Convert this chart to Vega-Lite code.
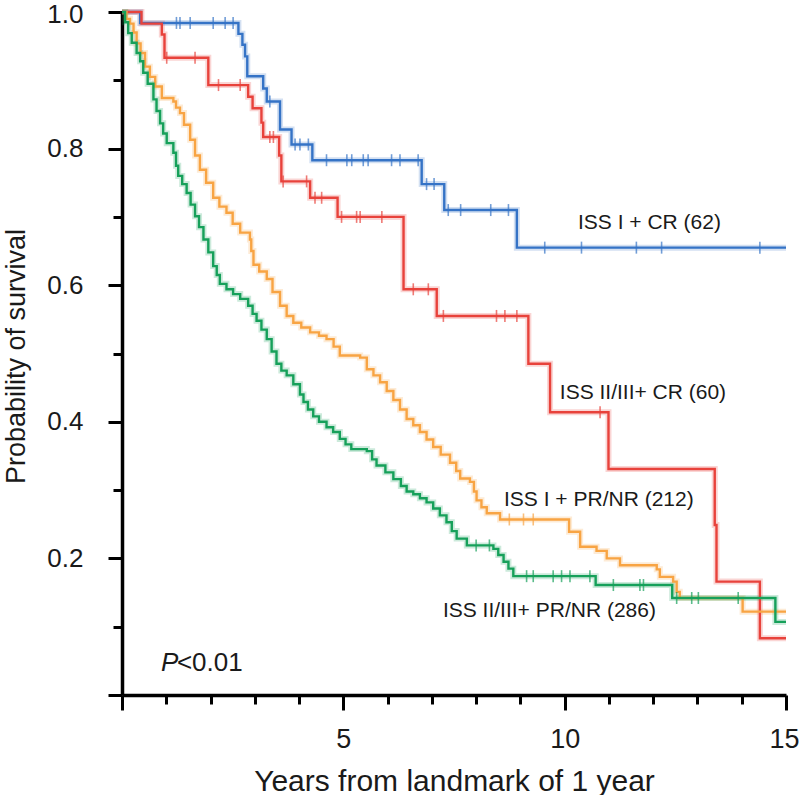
{
  "$schema": "https://vega.github.io/schema/vega-lite/v6.json",
  "width": 664,
  "height": 683,
  "autosize": {"type": "none"},
  "padding": {"left": 122, "top": 12, "right": 14, "bottom": 100},
  "background": "white",
  "config": {
    "view": {"stroke": null},
    "font": "Liberation Sans"
  },
  "datasets": {
    "curves": [
      {"group": "I+CR", "t": 0, "s": 1},
      {"group": "I+CR", "t": 0.41, "s": 0.984},
      {"group": "I+CR", "t": 2.63, "s": 0.968},
      {"group": "I+CR", "t": 2.72, "s": 0.952},
      {"group": "I+CR", "t": 2.78, "s": 0.935},
      {"group": "I+CR", "t": 2.83, "s": 0.906},
      {"group": "I+CR", "t": 3.19, "s": 0.888},
      {"group": "I+CR", "t": 3.27, "s": 0.869},
      {"group": "I+CR", "t": 3.57, "s": 0.828},
      {"group": "I+CR", "t": 3.83, "s": 0.806},
      {"group": "I+CR", "t": 4.3, "s": 0.783},
      {"group": "I+CR", "t": 6.77, "s": 0.748},
      {"group": "I+CR", "t": 7.28, "s": 0.71},
      {"group": "I+CR", "t": 8.92, "s": 0.655},
      {"group": "I+CR", "t": 15, "s": 0.655},

      {"group": "II/III+CR", "t": 0, "s": 1},
      {"group": "II/III+CR", "t": 0.44, "s": 0.983},
      {"group": "II/III+CR", "t": 0.9, "s": 0.967},
      {"group": "II/III+CR", "t": 0.96, "s": 0.933},
      {"group": "II/III+CR", "t": 1.95, "s": 0.893},
      {"group": "II/III+CR", "t": 2.85, "s": 0.876},
      {"group": "II/III+CR", "t": 2.95, "s": 0.859},
      {"group": "II/III+CR", "t": 3.15, "s": 0.838},
      {"group": "II/III+CR", "t": 3.19, "s": 0.817},
      {"group": "II/III+CR", "t": 3.55, "s": 0.79},
      {"group": "II/III+CR", "t": 3.6, "s": 0.752},
      {"group": "II/III+CR", "t": 4.25, "s": 0.728},
      {"group": "II/III+CR", "t": 4.87, "s": 0.7},
      {"group": "II/III+CR", "t": 6.36, "s": 0.594},
      {"group": "II/III+CR", "t": 7.11, "s": 0.555},
      {"group": "II/III+CR", "t": 9.18, "s": 0.485},
      {"group": "II/III+CR", "t": 9.67, "s": 0.414},
      {"group": "II/III+CR", "t": 10.99, "s": 0.331},
      {"group": "II/III+CR", "t": 13.39, "s": 0.249},
      {"group": "II/III+CR", "t": 13.43, "s": 0.166},
      {"group": "II/III+CR", "t": 14.41, "s": 0.083},
      {"group": "II/III+CR", "t": 15, "s": 0.083},

      {"group": "I+PR/NR", "t": 0, "s": 1},
      {"group": "I+PR/NR", "t": 0.1, "s": 0.99},
      {"group": "I+PR/NR", "t": 0.18, "s": 0.983},
      {"group": "I+PR/NR", "t": 0.26, "s": 0.97},
      {"group": "I+PR/NR", "t": 0.33, "s": 0.954},
      {"group": "I+PR/NR", "t": 0.42, "s": 0.94},
      {"group": "I+PR/NR", "t": 0.52, "s": 0.92},
      {"group": "I+PR/NR", "t": 0.63, "s": 0.905},
      {"group": "I+PR/NR", "t": 0.75, "s": 0.891},
      {"group": "I+PR/NR", "t": 0.9, "s": 0.874},
      {"group": "I+PR/NR", "t": 1.16, "s": 0.869},
      {"group": "I+PR/NR", "t": 1.22, "s": 0.86},
      {"group": "I+PR/NR", "t": 1.31, "s": 0.852},
      {"group": "I+PR/NR", "t": 1.4, "s": 0.835},
      {"group": "I+PR/NR", "t": 1.54, "s": 0.813},
      {"group": "I+PR/NR", "t": 1.65, "s": 0.79},
      {"group": "I+PR/NR", "t": 1.76, "s": 0.769},
      {"group": "I+PR/NR", "t": 1.9, "s": 0.75},
      {"group": "I+PR/NR", "t": 2.06, "s": 0.728},
      {"group": "I+PR/NR", "t": 2.2, "s": 0.715},
      {"group": "I+PR/NR", "t": 2.36, "s": 0.706},
      {"group": "I+PR/NR", "t": 2.5, "s": 0.69},
      {"group": "I+PR/NR", "t": 2.67, "s": 0.677},
      {"group": "I+PR/NR", "t": 2.89, "s": 0.667},
      {"group": "I+PR/NR", "t": 2.92, "s": 0.65},
      {"group": "I+PR/NR", "t": 2.97, "s": 0.63},
      {"group": "I+PR/NR", "t": 3.1, "s": 0.62},
      {"group": "I+PR/NR", "t": 3.27, "s": 0.609},
      {"group": "I+PR/NR", "t": 3.4, "s": 0.59},
      {"group": "I+PR/NR", "t": 3.57, "s": 0.57},
      {"group": "I+PR/NR", "t": 3.72, "s": 0.555},
      {"group": "I+PR/NR", "t": 3.87, "s": 0.545},
      {"group": "I+PR/NR", "t": 4.05, "s": 0.538},
      {"group": "I+PR/NR", "t": 4.25, "s": 0.531},
      {"group": "I+PR/NR", "t": 4.45, "s": 0.526},
      {"group": "I+PR/NR", "t": 4.62, "s": 0.521},
      {"group": "I+PR/NR", "t": 4.78, "s": 0.51},
      {"group": "I+PR/NR", "t": 4.92, "s": 0.497},
      {"group": "I+PR/NR", "t": 5.38, "s": 0.494},
      {"group": "I+PR/NR", "t": 5.53, "s": 0.477},
      {"group": "I+PR/NR", "t": 5.68, "s": 0.468},
      {"group": "I+PR/NR", "t": 5.83, "s": 0.458},
      {"group": "I+PR/NR", "t": 5.98, "s": 0.445},
      {"group": "I+PR/NR", "t": 6.13, "s": 0.432},
      {"group": "I+PR/NR", "t": 6.28, "s": 0.418},
      {"group": "I+PR/NR", "t": 6.43, "s": 0.404},
      {"group": "I+PR/NR", "t": 6.58, "s": 0.395},
      {"group": "I+PR/NR", "t": 6.73, "s": 0.385},
      {"group": "I+PR/NR", "t": 6.88, "s": 0.374},
      {"group": "I+PR/NR", "t": 7.03, "s": 0.363},
      {"group": "I+PR/NR", "t": 7.2, "s": 0.352},
      {"group": "I+PR/NR", "t": 7.41, "s": 0.34},
      {"group": "I+PR/NR", "t": 7.55, "s": 0.328},
      {"group": "I+PR/NR", "t": 7.64, "s": 0.317},
      {"group": "I+PR/NR", "t": 7.86, "s": 0.312},
      {"group": "I+PR/NR", "t": 7.95, "s": 0.298},
      {"group": "I+PR/NR", "t": 8.01, "s": 0.285},
      {"group": "I+PR/NR", "t": 8.12, "s": 0.275},
      {"group": "I+PR/NR", "t": 8.24, "s": 0.266},
      {"group": "I+PR/NR", "t": 8.54, "s": 0.257},
      {"group": "I+PR/NR", "t": 10.1, "s": 0.239},
      {"group": "I+PR/NR", "t": 10.35, "s": 0.217},
      {"group": "I+PR/NR", "t": 10.72, "s": 0.211},
      {"group": "I+PR/NR", "t": 10.95, "s": 0.2},
      {"group": "I+PR/NR", "t": 11.25, "s": 0.19},
      {"group": "I+PR/NR", "t": 12.08, "s": 0.184},
      {"group": "I+PR/NR", "t": 12.15, "s": 0.173},
      {"group": "I+PR/NR", "t": 12.45, "s": 0.166},
      {"group": "I+PR/NR", "t": 12.53, "s": 0.151},
      {"group": "I+PR/NR", "t": 12.6, "s": 0.142},
      {"group": "I+PR/NR", "t": 14.02, "s": 0.122},
      {"group": "I+PR/NR", "t": 15, "s": 0.122},

      {"group": "II/III+PR/NR", "t": 0, "s": 1},
      {"group": "II/III+PR/NR", "t": 0.07, "s": 0.985},
      {"group": "II/III+PR/NR", "t": 0.14, "s": 0.969},
      {"group": "II/III+PR/NR", "t": 0.22, "s": 0.955},
      {"group": "II/III+PR/NR", "t": 0.33, "s": 0.94},
      {"group": "II/III+PR/NR", "t": 0.41, "s": 0.928},
      {"group": "II/III+PR/NR", "t": 0.48, "s": 0.911},
      {"group": "II/III+PR/NR", "t": 0.58, "s": 0.895},
      {"group": "II/III+PR/NR", "t": 0.71, "s": 0.872},
      {"group": "II/III+PR/NR", "t": 0.78, "s": 0.855},
      {"group": "II/III+PR/NR", "t": 0.86, "s": 0.837},
      {"group": "II/III+PR/NR", "t": 0.93, "s": 0.822},
      {"group": "II/III+PR/NR", "t": 1.01, "s": 0.808},
      {"group": "II/III+PR/NR", "t": 1.16, "s": 0.794},
      {"group": "II/III+PR/NR", "t": 1.22, "s": 0.775},
      {"group": "II/III+PR/NR", "t": 1.27, "s": 0.76},
      {"group": "II/III+PR/NR", "t": 1.36, "s": 0.748},
      {"group": "II/III+PR/NR", "t": 1.46, "s": 0.735},
      {"group": "II/III+PR/NR", "t": 1.55, "s": 0.718},
      {"group": "II/III+PR/NR", "t": 1.65, "s": 0.701},
      {"group": "II/III+PR/NR", "t": 1.74, "s": 0.685},
      {"group": "II/III+PR/NR", "t": 1.84, "s": 0.667},
      {"group": "II/III+PR/NR", "t": 1.95, "s": 0.648},
      {"group": "II/III+PR/NR", "t": 2.06, "s": 0.628},
      {"group": "II/III+PR/NR", "t": 2.14, "s": 0.615},
      {"group": "II/III+PR/NR", "t": 2.21, "s": 0.602},
      {"group": "II/III+PR/NR", "t": 2.36, "s": 0.594},
      {"group": "II/III+PR/NR", "t": 2.51, "s": 0.587},
      {"group": "II/III+PR/NR", "t": 2.67, "s": 0.58},
      {"group": "II/III+PR/NR", "t": 2.85, "s": 0.57},
      {"group": "II/III+PR/NR", "t": 2.95, "s": 0.558},
      {"group": "II/III+PR/NR", "t": 3.04, "s": 0.548},
      {"group": "II/III+PR/NR", "t": 3.15, "s": 0.535},
      {"group": "II/III+PR/NR", "t": 3.27, "s": 0.521},
      {"group": "II/III+PR/NR", "t": 3.38, "s": 0.503},
      {"group": "II/III+PR/NR", "t": 3.49, "s": 0.485},
      {"group": "II/III+PR/NR", "t": 3.6, "s": 0.475},
      {"group": "II/III+PR/NR", "t": 3.72, "s": 0.468},
      {"group": "II/III+PR/NR", "t": 3.87, "s": 0.455},
      {"group": "II/III+PR/NR", "t": 4.02, "s": 0.44},
      {"group": "II/III+PR/NR", "t": 4.1, "s": 0.429},
      {"group": "II/III+PR/NR", "t": 4.2, "s": 0.418},
      {"group": "II/III+PR/NR", "t": 4.32, "s": 0.408},
      {"group": "II/III+PR/NR", "t": 4.45, "s": 0.4},
      {"group": "II/III+PR/NR", "t": 4.62, "s": 0.392},
      {"group": "II/III+PR/NR", "t": 4.77, "s": 0.385},
      {"group": "II/III+PR/NR", "t": 4.92, "s": 0.375},
      {"group": "II/III+PR/NR", "t": 5.05, "s": 0.367},
      {"group": "II/III+PR/NR", "t": 5.18, "s": 0.36},
      {"group": "II/III+PR/NR", "t": 5.53, "s": 0.357},
      {"group": "II/III+PR/NR", "t": 5.65, "s": 0.345},
      {"group": "II/III+PR/NR", "t": 5.75, "s": 0.336},
      {"group": "II/III+PR/NR", "t": 5.95, "s": 0.326},
      {"group": "II/III+PR/NR", "t": 6.13, "s": 0.316},
      {"group": "II/III+PR/NR", "t": 6.3, "s": 0.306},
      {"group": "II/III+PR/NR", "t": 6.43, "s": 0.298},
      {"group": "II/III+PR/NR", "t": 6.58, "s": 0.294},
      {"group": "II/III+PR/NR", "t": 6.73, "s": 0.288},
      {"group": "II/III+PR/NR", "t": 6.88, "s": 0.282},
      {"group": "II/III+PR/NR", "t": 7.03, "s": 0.273},
      {"group": "II/III+PR/NR", "t": 7.18, "s": 0.263},
      {"group": "II/III+PR/NR", "t": 7.33, "s": 0.253},
      {"group": "II/III+PR/NR", "t": 7.45, "s": 0.24},
      {"group": "II/III+PR/NR", "t": 7.56, "s": 0.229},
      {"group": "II/III+PR/NR", "t": 7.79, "s": 0.219},
      {"group": "II/III+PR/NR", "t": 8.39, "s": 0.214},
      {"group": "II/III+PR/NR", "t": 8.5, "s": 0.205},
      {"group": "II/III+PR/NR", "t": 8.62, "s": 0.195},
      {"group": "II/III+PR/NR", "t": 8.73, "s": 0.185},
      {"group": "II/III+PR/NR", "t": 8.84, "s": 0.174},
      {"group": "II/III+PR/NR", "t": 10.7, "s": 0.161},
      {"group": "II/III+PR/NR", "t": 12.43, "s": 0.142},
      {"group": "II/III+PR/NR", "t": 14.76, "s": 0.107},
      {"group": "II/III+PR/NR", "t": 15, "s": 0.107}
    ],
    "censors": [
      {"group": "I+CR", "t": 1.23, "s": 0.984},
      {"group": "I+CR", "t": 1.31, "s": 0.984},
      {"group": "I+CR", "t": 1.54, "s": 0.984},
      {"group": "I+CR", "t": 2.06, "s": 0.984},
      {"group": "I+CR", "t": 2.33, "s": 0.984},
      {"group": "I+CR", "t": 2.51, "s": 0.984},
      {"group": "I+CR", "t": 3.34, "s": 0.869},
      {"group": "I+CR", "t": 3.91, "s": 0.806},
      {"group": "I+CR", "t": 4.02, "s": 0.806},
      {"group": "I+CR", "t": 4.21, "s": 0.806},
      {"group": "I+CR", "t": 4.62, "s": 0.783},
      {"group": "I+CR", "t": 5.08, "s": 0.783},
      {"group": "I+CR", "t": 5.19, "s": 0.783},
      {"group": "I+CR", "t": 5.45, "s": 0.783},
      {"group": "I+CR", "t": 5.56, "s": 0.783},
      {"group": "I+CR", "t": 6.09, "s": 0.783},
      {"group": "I+CR", "t": 6.28, "s": 0.783},
      {"group": "I+CR", "t": 6.69, "s": 0.783},
      {"group": "I+CR", "t": 6.88, "s": 0.748},
      {"group": "I+CR", "t": 7.05, "s": 0.748},
      {"group": "I+CR", "t": 7.37, "s": 0.71},
      {"group": "I+CR", "t": 7.65, "s": 0.71},
      {"group": "I+CR", "t": 8.33, "s": 0.71},
      {"group": "I+CR", "t": 8.73, "s": 0.71},
      {"group": "I+CR", "t": 9.55, "s": 0.655},
      {"group": "I+CR", "t": 10.38, "s": 0.655},
      {"group": "I+CR", "t": 11.62, "s": 0.655},
      {"group": "I+CR", "t": 12.19, "s": 0.655},
      {"group": "I+CR", "t": 14.41, "s": 0.655},
      {"group": "II/III+CR", "t": 1.01, "s": 0.933},
      {"group": "II/III+CR", "t": 1.65, "s": 0.933},
      {"group": "II/III+CR", "t": 2.18, "s": 0.893},
      {"group": "II/III+CR", "t": 2.67, "s": 0.893},
      {"group": "II/III+CR", "t": 3.34, "s": 0.817},
      {"group": "II/III+CR", "t": 3.42, "s": 0.817},
      {"group": "II/III+CR", "t": 3.64, "s": 0.752},
      {"group": "II/III+CR", "t": 4.17, "s": 0.752},
      {"group": "II/III+CR", "t": 4.36, "s": 0.728},
      {"group": "II/III+CR", "t": 4.51, "s": 0.728},
      {"group": "II/III+CR", "t": 4.96, "s": 0.7},
      {"group": "II/III+CR", "t": 5.3, "s": 0.7},
      {"group": "II/III+CR", "t": 5.38, "s": 0.7},
      {"group": "II/III+CR", "t": 5.87, "s": 0.7},
      {"group": "II/III+CR", "t": 6.58, "s": 0.594},
      {"group": "II/III+CR", "t": 6.92, "s": 0.594},
      {"group": "II/III+CR", "t": 7.26, "s": 0.555},
      {"group": "II/III+CR", "t": 8.46, "s": 0.555},
      {"group": "II/III+CR", "t": 8.65, "s": 0.555},
      {"group": "II/III+CR", "t": 8.92, "s": 0.555},
      {"group": "II/III+CR", "t": 10.8, "s": 0.414},
      {"group": "I+PR/NR", "t": 8.75, "s": 0.257},
      {"group": "I+PR/NR", "t": 9.07, "s": 0.257},
      {"group": "I+PR/NR", "t": 9.29, "s": 0.257},
      {"group": "II/III+PR/NR", "t": 8.0, "s": 0.219},
      {"group": "II/III+PR/NR", "t": 8.3, "s": 0.219},
      {"group": "II/III+PR/NR", "t": 9.14, "s": 0.174},
      {"group": "II/III+PR/NR", "t": 9.29, "s": 0.174},
      {"group": "II/III+PR/NR", "t": 9.74, "s": 0.174},
      {"group": "II/III+PR/NR", "t": 9.93, "s": 0.174},
      {"group": "II/III+PR/NR", "t": 10.12, "s": 0.174},
      {"group": "II/III+PR/NR", "t": 10.57, "s": 0.174},
      {"group": "II/III+PR/NR", "t": 11.1, "s": 0.161},
      {"group": "II/III+PR/NR", "t": 11.7, "s": 0.161},
      {"group": "II/III+PR/NR", "t": 11.78, "s": 0.161},
      {"group": "II/III+PR/NR", "t": 12.53, "s": 0.142},
      {"group": "II/III+PR/NR", "t": 12.87, "s": 0.142},
      {"group": "II/III+PR/NR", "t": 13.02, "s": 0.142},
      {"group": "II/III+PR/NR", "t": 13.92, "s": 0.142}
    ],
    "labels": [
      {"text": "ISS I + CR (62)", "t": 10.3, "s": 0.691, "kind": "series"},
      {"text": "ISS II/III+ CR (60)", "t": 9.89, "s": 0.442, "kind": "series"},
      {"text": "ISS I + PR/NR (212)", "t": 8.63, "s": 0.286, "kind": "series"},
      {"text": "ISS II/III+ PR/NR (286)", "t": 7.25, "s": 0.123, "kind": "series"},
      {"text": "P", "t": 0.88, "s": 0.047, "kind": "pitalic"},
      {"text": "<0.01", "t": 1.24, "s": 0.047, "kind": "pvalue"}
    ]
  },
  "layer": [
    {
      "data": {"name": "curves"},
      "mark": {"type": "line", "interpolate": "step-after", "strokeWidth": 6, "opacity": 0.22},
      "encoding": {
        "x": {
          "field": "t", "type": "quantitative",
          "scale": {"domain": [0, 15], "nice": false},
          "axis": {
            "values": [0, 1, 2, 3, 4, 5, 6, 7, 8, 9, 10, 11, 12, 13, 14, 15],
            "labelExpr": "datum.value % 5 === 0 && datum.value > 0 ? datum.label : ''",
            "tickSize": {"condition": {"test": "datum.value % 5 === 0", "value": 15}, "value": 9},
            "tickWidth": 3,
            "tickColor": "black",
            "domainColor": "black",
            "domainWidth": 3.5,
            "grid": false,
            "labelFontSize": 27,
            "labelColor": "#1a1a1a",
            "labelPadding": 16,
            "labelOffset": {"condition": {"test": "datum.value === 15", "value": -2}, "value": 0},
            "labelFlush": false,
            "labelOverlap": false,
            "title": "Years from landmark of 1 year",
            "titleFontSize": 30,
            "titleFontWeight": "normal",
            "titleColor": "#1a1a1a",
            "titleBaseline": "alphabetic",
            "titleY": 95
          }
        },
        "y": {
          "field": "s", "type": "quantitative",
          "scale": {"domain": [0, 1], "nice": false},
          "axis": {
            "values": [0, 0.1, 0.2, 0.3, 0.4, 0.5, 0.6, 0.7, 0.8, 0.9, 1.0],
            "labelExpr": "datum.value > 0.15 && round(datum.value * 10) % 2 === 0 ? format(datum.value, '.1f') : ''",
            "tickSize": {"condition": {"test": "round(datum.value * 10) % 2 === 0", "value": 14}, "value": 9},
            "tickWidth": 3,
            "tickColor": "black",
            "domainColor": "black",
            "domainWidth": 3.5,
            "grid": false,
            "labelFontSize": 26,
            "labelColor": "#1a1a1a",
            "labelPadding": 25,
            "labelOffset": {"condition": {"test": "datum.value === 1", "value": 2}, "value": 0},
            "labelFlush": false,
            "labelOverlap": false,
            "title": "Probability of survival",
            "titleFontSize": 27,
            "titleFontWeight": "normal",
            "titleColor": "#1a1a1a",
            "titleX": -98,
            "titleY": 344,
            "titleBaseline": "alphabetic"
          }
        },
        "color": {
          "field": "group", "type": "nominal",
          "scale": {
            "domain": ["II/III+PR/NR", "I+PR/NR", "II/III+CR", "I+CR"],
            "range": ["#16a05a", "#f8a443", "#e8423b", "#3573c6"]
          },
          "legend": null
        }
      }
    },
    {
      "data": {"name": "curves"},
      "mark": {"type": "line", "interpolate": "step-after", "strokeWidth": 2.4},
      "encoding": {
        "x": {"field": "t", "type": "quantitative"},
        "y": {"field": "s", "type": "quantitative"},
        "color": {"field": "group", "type": "nominal", "legend": null}
      }
    },
    {
      "data": {"name": "censors"},
      "mark": {"type": "tick", "orient": "vertical", "size": 12, "thickness": 1.6},
      "encoding": {
        "x": {"field": "t", "type": "quantitative"},
        "y": {"field": "s", "type": "quantitative"},
        "color": {"field": "group", "type": "nominal", "legend": null}
      }
    },
    {
      "data": {"name": "labels"},
      "transform": [{"filter": "datum.kind === 'series'"}],
      "mark": {"type": "text", "align": "left", "baseline": "middle", "fontSize": 21, "color": "#1a1a1a"},
      "encoding": {
        "x": {"field": "t", "type": "quantitative"},
        "y": {"field": "s", "type": "quantitative"},
        "text": {"field": "text"}
      }
    },
    {
      "data": {"name": "labels"},
      "transform": [{"filter": "datum.kind === 'pitalic'"}],
      "mark": {"type": "text", "align": "left", "baseline": "middle", "fontSize": 26, "fontStyle": "italic", "color": "#1a1a1a"},
      "encoding": {
        "x": {"field": "t", "type": "quantitative"},
        "y": {"field": "s", "type": "quantitative"},
        "text": {"field": "text"}
      }
    },
    {
      "data": {"name": "labels"},
      "transform": [{"filter": "datum.kind === 'pvalue'"}],
      "mark": {"type": "text", "align": "left", "baseline": "middle", "fontSize": 26, "color": "#1a1a1a"},
      "encoding": {
        "x": {"field": "t", "type": "quantitative"},
        "y": {"field": "s", "type": "quantitative"},
        "text": {"field": "text"}
      }
    }
  ]
}
